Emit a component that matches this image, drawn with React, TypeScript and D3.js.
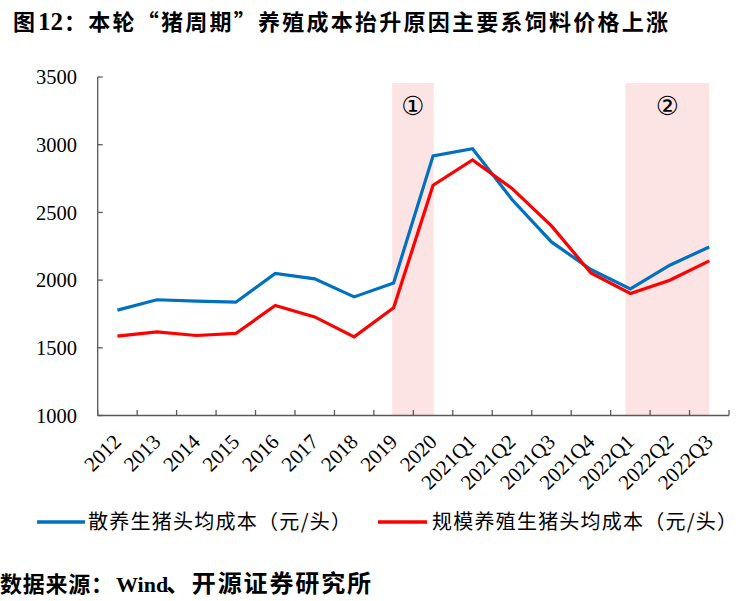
import React from "react";
import * as d3 from "d3";

const categories = ["2012","2013","2014","2015","2016","2017","2018","2019","2020","2021Q1","2021Q2","2021Q3","2021Q4","2022Q1","2022Q2","2022Q3"];
const retailCost = [1778,1855,1845,1837,2049,2009,1876,1979,2918,2970,2595,2282,2078,1935,2110,2245];
const scaleCost = [1586,1618,1591,1606,1812,1728,1581,1795,2701,2888,2677,2400,2053,1901,1999,2142];
const yTicks = [1000,1500,2000,2500,3000,3500];
const seriesNames = ["散养生猪头均成本（元/头）", "规模养殖生猪头均成本（元/头）"];
const seriesColors = ["#0070C0", "#FF0000"];
const shades = [
  { from: "2019", to: "2020", label: "①" },
  { from: "2022Q1", to: "2022Q3", label: "②" },
];
const titleParts = ["图", "12", "：本轮“猪周期”养殖成本抬升原因主要系饲料价格上涨"];
const sourceParts = ["数据来源：", "Wind", "、开源证券研究所"];

const W = 747, H = 601;
const plotLeft = 97.7, plotRight = 729, plotTop = 77, plotBottom = 415.5;

export default function App() {
  const x = d3.scaleBand<string>().domain(categories).range([plotLeft, plotRight]).padding(0);
  const bw = x.bandwidth();
  const cx = (c: string) => (x(c) as number) + bw / 2;
  const y = d3.scaleLinear().domain([1000, 3500]).range([plotBottom, plotTop]);
  const line = d3.line<number>().x((_, i) => cx(categories[i])).y((v) => y(v));
  const axisColor = "#595959";
  const serif = "'Liberation Serif','Times New Roman',serif";
  const cjk = "'Noto Sans CJK SC','Liberation Serif',serif";
  const boundaries = categories.map((c) => x(c) as number).concat([plotRight]);

  return (
    <div style={{ position: "absolute", left: 0, top: 0 }}>
      <svg width={W} height={H} style={{ display: "block", background: "#fff" }}>
        <g fill="#000" fontWeight={700}>
          <text x={13} y={30} fontFamily={cjk} fontSize={22}>{titleParts[0]}</text>
          <text x={38} y={30} fontFamily={serif} fontSize={25}>{titleParts[1]}</text>
          <text x={64} y={30} fontFamily={cjk} fontSize={22} textLength={604} lengthAdjust="spacing">{titleParts[2]}</text>
        </g>

        {shades.map((s, i) => {
          const x0 = i === 0 ? cx(s.from) - 1.5 : cx(s.from) - 5;
          const x1 = cx(s.to) + (i === 0 ? 0.7 : 0);
          return (
            <g key={i}>
              <rect x={x0} y={83} width={x1 - x0} height={plotBottom - 83} fill="#FDE4E4" />
              <text x={(x0 + x1) / 2} y={106} dy="0.35em" textAnchor="middle" fontFamily="'DejaVu Sans',sans-serif" fontSize={26} fill="#000">{s.label}</text>
            </g>
          );
        })}

        <line x1={plotLeft} x2={plotLeft} y1={plotTop} y2={plotBottom} stroke={axisColor} strokeWidth={1.3} />
        {yTicks.map((t) => (
          <g key={t}>
            <line x1={plotLeft} x2={plotLeft + 5} y1={y(t)} y2={y(t)} stroke={axisColor} strokeWidth={1.3} />
            <text x={77} y={y(t)} dy="0.35em" textAnchor="end" fontFamily={serif} fontSize={20.5} fill="#000">{t}</text>
          </g>
        ))}
        <line x1={plotLeft} x2={plotRight} y1={plotBottom} y2={plotBottom} stroke={axisColor} strokeWidth={1.3} />
        {boundaries.map((b, i) => (
          <line key={i} x1={b} x2={b} y1={plotBottom} y2={plotBottom - 5.5} stroke={axisColor} strokeWidth={1.3} />
        ))}
        {categories.map((c) => (
          <text key={c} transform={`translate(${cx(c) + 5},${443}) rotate(-45)`} textAnchor="end" fontFamily={serif} fontSize={21} fill="#000">{c}</text>
        ))}

        {[retailCost, scaleCost].map((s, i) => (
          <path key={i} d={line(s) || ""} fill="none" stroke={seriesColors[i]} strokeWidth={3.2} strokeLinejoin="miter" />
        ))}

        <line x1={37} x2={85} y1={522} y2={522} stroke={seriesColors[0]} strokeWidth={3.5} />
        <text x={88} y={522} dy="0.35em" fontFamily={cjk} fontSize={20} fill="#000" textLength={263} lengthAdjust="spacing">{seriesNames[0]}</text>
        <line x1={378} x2={427} y1={522} y2={522} stroke={seriesColors[1]} strokeWidth={3.5} />
        <text x={432} y={522} dy="0.35em" fontFamily={cjk} fontSize={20} fill="#000" textLength={305} lengthAdjust="spacing">{seriesNames[1]}</text>

        <g fill="#000" fontWeight={700}>
          <text x={0} y={584} dy="0.35em" fontFamily={cjk} fontSize={22} textLength={113} lengthAdjust="spacing">{sourceParts[0]}</text>
          <text x={116} y={584} dy="0.35em" fontFamily={serif} fontSize={22}>{sourceParts[1]}</text>
          <text x={166} y={584} dy="0.35em" fontFamily={cjk} fontSize={24} textLength={205} lengthAdjust="spacing">{sourceParts[2]}</text>
        </g>
      </svg>
    </div>
  );
}
